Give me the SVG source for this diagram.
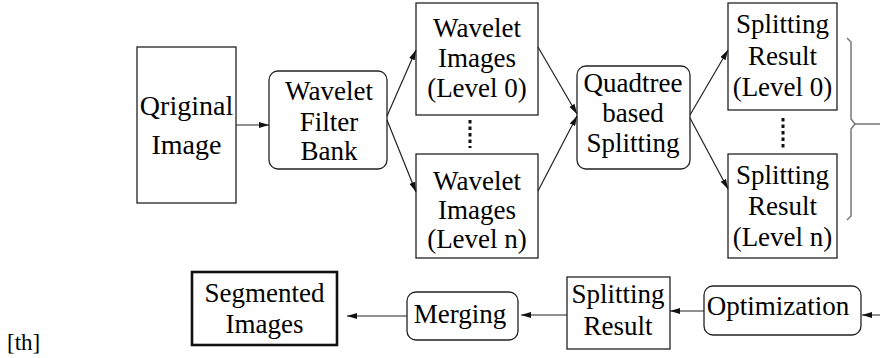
<svg xmlns="http://www.w3.org/2000/svg" width="880" height="358" viewBox="0 0 880 358">
<defs>
<style>
.box{fill:#fff;stroke:#222;stroke-width:1.3}
.thick{fill:#fff;stroke:#111;stroke-width:2.6}
.c{fill:none;stroke:#222;stroke-width:1.2}
.dot{fill:none;stroke:#111;stroke-width:3;stroke-dasharray:3.5 3}
.brace{fill:none;stroke:#777;stroke-width:1.5}
</style>
<marker id="ah" viewBox="0 0 10 6" refX="10" refY="3" markerWidth="10" markerHeight="6" markerUnits="userSpaceOnUse" orient="auto">
<path d="M0,0 L10,3 L0,6 z" fill="#111"/>
</marker>
</defs>
<rect width="880" height="358" fill="#fff"/>
<g font-family="Liberation Serif, serif" font-size="27" fill="#000" text-anchor="middle">
<g id="original-image">
<rect class="box" x="137" y="47" width="99" height="156"/>
<text x="186.5" y="115" font-size="28">Qriginal</text>
<text x="186.5" y="154" font-size="28">Image</text>
</g>
<g id="wavelet-filter-bank">
<rect class="box" x="269" y="71" width="118" height="98" rx="9"/>
<text x="329" y="100">Wavelet</text>
<text x="329" y="131">Filter</text>
<text x="329" y="160">Bank</text>
</g>
<g id="wavelet-images-0">
<rect class="box" x="416" y="3" width="122" height="112"/>
<text x="477" y="37">Wavelet</text>
<text x="477" y="67">Images</text>
<text x="477" y="97">(Level 0)</text>
</g>
<g id="wavelet-images-n">
<rect class="box" x="416" y="154" width="122" height="104"/>
<text x="477" y="190">Wavelet</text>
<text x="477" y="219">Images</text>
<text x="477" y="248">(Level n)</text>
</g>
<g id="quadtree-splitting">
<rect class="box" x="577" y="66" width="113" height="103" rx="9"/>
<text x="633" y="92">Quadtree</text>
<text x="633" y="122">based</text>
<text x="633" y="152">Splitting</text>
</g>
<g id="splitting-result-0">
<rect class="box" x="728" y="3" width="109" height="107"/>
<text x="782.5" y="33">Splitting</text>
<text x="782.5" y="65">Result</text>
<text x="782.5" y="96">(Level 0)</text>
</g>
<g id="splitting-result-n">
<rect class="box" x="728" y="154" width="109" height="104"/>
<text x="782.5" y="184">Splitting</text>
<text x="782.5" y="215">Result</text>
<text x="782.5" y="246">(Level n)</text>
</g>
<g id="optimization">
<rect class="box" x="704" y="286" width="157" height="49" rx="9"/>
<text x="778" y="315">Optimization</text>
</g>
<g id="splitting-result">
<rect class="box" x="567" y="277" width="103" height="72"/>
<text x="618" y="303">Splitting</text>
<text x="618" y="335">Result</text>
</g>
<g id="merging">
<rect class="box" x="407" y="292" width="111" height="48" rx="9"/>
<text x="460" y="323">Merging</text>
</g>
<g id="segmented-images">
<rect class="thick" x="192" y="272" width="145" height="73"/>
<text x="264.5" y="302">Segmented</text>
<text x="264.5" y="333">Images</text>
</g>
<g id="label-th">
<text x="7" y="350" font-size="23" text-anchor="start">[th]</text>
</g>
</g>
<g id="connectors">
<path class="c" d="M236,125 H269" marker-end="url(#ah)"/>
<path class="c" d="M387,116 L416,50" marker-end="url(#ah)"/>
<path class="c" d="M387,120 L416,192" marker-end="url(#ah)"/>
<path class="c" d="M538,47 L577,114" marker-end="url(#ah)"/>
<path class="c" d="M538,191 L577,116" marker-end="url(#ah)"/>
<path class="c" d="M690,115 L728,50" marker-end="url(#ah)"/>
<path class="c" d="M690,118 L728,189" marker-end="url(#ah)"/>
<path class="dot" d="M470,120 V148"/>
<path class="dot" d="M783,118 V148"/>
<path class="brace" d="M847,38 L851,42 V119 L855,124 L851,129 V216 L847,220"/>
<path class="brace" d="M855,124 H895"/>
<path class="c" d="M895,315 H862" marker-end="url(#ah)"/>
<path class="c" d="M704,311 H670" marker-end="url(#ah)"/>
<path class="c" d="M567,315 H521" marker-end="url(#ah)"/>
<path class="c" d="M407,316 H347" marker-end="url(#ah)"/>
</g>
</svg>
